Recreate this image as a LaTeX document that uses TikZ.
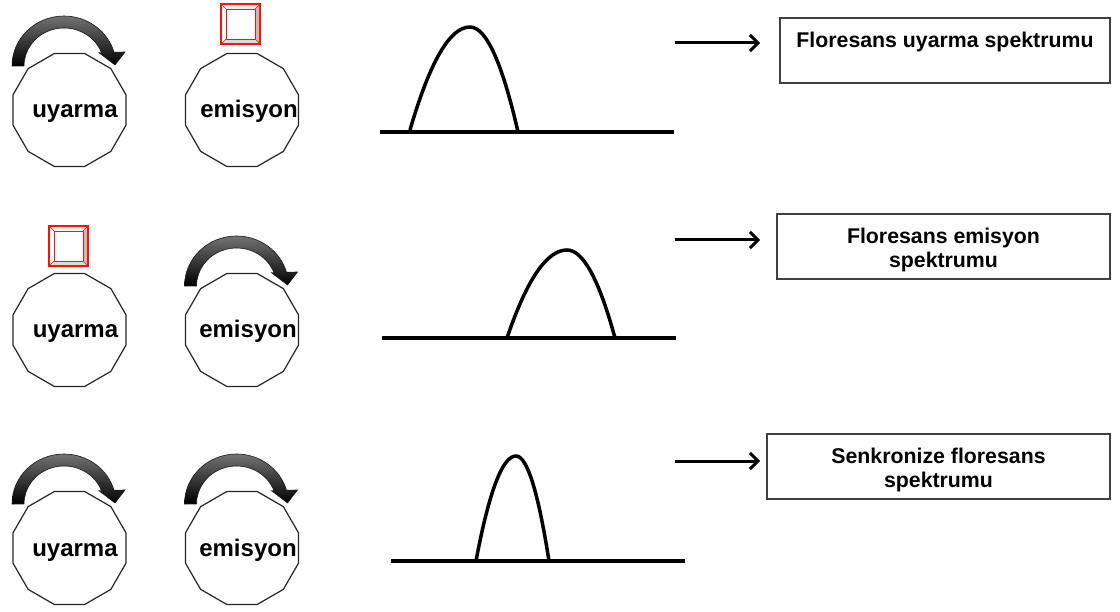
\documentclass[tikz,border=0pt]{standalone}
\usepackage{fontspec}
\setmainfont{Liberation Sans}
\usetikzlibrary{shapes.geometric,arrows.meta}
\tikzset{
  poly/.style={draw=black!85, line width=1.2pt, fill=white, regular polygon,
    regular polygon sides=12, minimum size=117pt, inner sep=0pt},
  lbl/.style={font=\fontsize{24}{28}\selectfont\bfseries, anchor=base, inner sep=0pt},
  spec/.style={line width=3.5pt, black},
  harrow/.style={line width=3pt, -{Straight Barb[length=8pt,width=16pt]}},
  infobox/.style={draw=black!75, line width=1.2pt, minimum height=65pt, inner sep=0pt},
  boxtext/.style={align=center, inner sep=0pt,
    font=\fontsize{21.3}{24.5}\selectfont\bfseries},
  curvarrow/.pic={
    \shade[top color=black!55, bottom color=black, draw=black!90, line width=0.6pt]
      (-57.5,-44) arc[start angle=180,end angle=344,x radius=52,y radius=50]
      -- (55.5,-58) -- (45.5,-45) -- (29.5,-57.3) -- (32.1,-57)
      arc[start angle=340,end angle=180,x radius=40,y radius=38] -- cycle;
  },
  redsq/.pic={
    \fill[white] (-19.5,-20) rectangle (19.5,20);
    \fill[gray!50] (19.5,-20) -- (19.5,20) -- (14.5,15) -- (14.5,-15) -- cycle;
    \fill[gray!28] (-19.5,20) -- (19.5,20) -- (14.5,15) -- (-14.5,15) -- cycle;
    \fill[red!6] (-19.5,-20) -- (19.5,-20) -- (14.5,-15) -- (-14.5,-15) -- cycle;
    \draw[red!85!orange, line width=1.2pt] (-19.5,-20) rectangle (19.5,20);
    \draw[red!85!orange, line width=0.8pt] (-14.5,-15) rectangle (14.5,15);
    \draw[red!85!orange, line width=0.6pt] (-19.5,-20) -- (-14.5,-15)
      (19.5,-20) -- (14.5,-15) (19.5,20) -- (14.5,15) (-19.5,20) -- (-14.5,15);
  }
}
\begin{document}
\begin{tikzpicture}[x=1pt,y=-1pt]
\useasboundingbox (0,0) rectangle (1120,612);
\fill[white] (0,0) rectangle (1120,612);

% row 1
\node[poly] (u1) at (69.5,110) {};
\node[poly] (e1) at (242,110) {};
\node[lbl] (u1t) at ([xshift=5.5pt,yshift=-8pt]u1.center) {uyarma};
\node[lbl] (e1t) at ([xshift=7pt,yshift=-8pt]e1.center) {emisyon};
\pic at (u1.center) {curvarrow};
\pic at ([xshift=-1.5pt,yshift=86pt]e1.center) {redsq};

% row 2
\node[poly] (u2) at (69.5,330) {};
\node[poly] (e2) at (242,330) {};
\node[lbl] (u2t) at ([xshift=6pt,yshift=-8pt]u2.center) {uyarma};
\node[lbl] (e2t) at ([xshift=6pt,yshift=-8pt]e2.center) {emisyon};
\pic at ([xshift=-1pt,yshift=84pt]u2.center) {redsq};
\pic at (e2.center) {curvarrow};

% row 3
\node[poly] (u3) at (69.5,548) {};
\node[poly] (e3) at (242,548) {};
\node[lbl] (u3t) at ([xshift=5.5pt,yshift=-8pt]u3.center) {uyarma};
\node[lbl] (e3t) at ([xshift=6pt,yshift=-8pt]e3.center) {emisyon};
\pic at (u3.center) {curvarrow};
\pic at (e3.center) {curvarrow};

% spectra
\draw[spec] (380,132) -- (674,132);
\draw[spec] (410,130) .. controls (430,61.3) and (450,27) .. (470,27)
  .. controls (486,27) and (502,62) .. (518,132);
\draw[spec] (382,338) -- (676,338);
\draw[spec] (507,338) .. controls (527,279) and (547,250) .. (567,250)
  .. controls (583,250) and (599,279.3) .. (615,338);
\draw[spec] (391,561) -- (685,561);
\draw[spec] (476,561) .. controls (489.3,490.3) and (502.7,456) .. (516,456)
  .. controls (527,456) and (538,491) .. (549,561);

% boxes
\node[infobox, minimum width=330pt] (b1) at (945,50.5) {};
\node[infobox, minimum width=333pt] (b2) at (943.5,246.5) {};
\node[infobox, minimum width=343pt] (b3) at (938.5,466.5) {};
\node[boxtext] (b1t) at ([yshift=-3.5pt]b1.center) {Floresans uyarma spektrumu\\\vphantom{spektrumu}};
\node[boxtext] (b2t) at ([yshift=-3.5pt]b2.center) {Floresans emisyon\\spektrumu};
\node[boxtext] (b3t) at ([yshift=-3.5pt]b3.center) {Senkronize floresans\\spektrumu};

% arrows
\coordinate (a1s) at (675,43); \coordinate (a1e) at (760,43);
\coordinate (a2s) at (675,240); \coordinate (a2e) at (760,240);
\coordinate (a3s) at (675,461); \coordinate (a3e) at (760,461);
\draw[harrow] (a1s) -- (a1e);
\draw[harrow] (a2s) -- (a2e);
\draw[harrow] (a3s) -- (a3e);
\end{tikzpicture}
\end{document}
